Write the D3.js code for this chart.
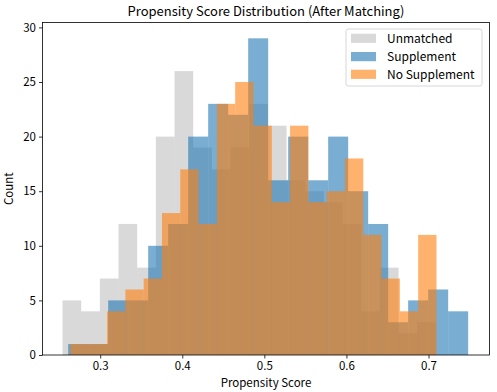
<!DOCTYPE html>
<html><head><meta charset="utf-8">
<script src="https://cdn.jsdelivr.net/npm/d3@7"></script>
<style>body{margin:0;background:#fff} svg{display:block}</style>
</head><body>
<svg id="c" width="497" height="392"></svg>
<script>
// ---- data ----
const seriesNames = ["Unmatched", "Supplement", "No Supplement"];
const unmatchedRange = [0.2541, 0.7090];
const unmatchedCounts = [5,4,7,12,8,20,26,19,17,19,23,21,16,15,14,12,4,8,2,3];
const supplementRange = [0.2610, 0.7483];
const supplementCounts = [1,1,5,5,10,12,20,23,22,29,16,20,16,20,15,12,3,5,6,4];
const noSupplementRange = [0.2638, 0.7097];
const noSupplementCounts = [1,1,4,6,7,13,17,12,23,25,21,14,21,14,15,18,11,7,4,11];
const xTicks = [0.3, 0.4, 0.5, 0.6, 0.7];
const yTicks = [0, 5, 10, 15, 20, 25, 30];
const titleText = "Propensity Score Distribution (After Matching)";
const xLabel = "Propensity Score";
const yLabel = "Count";

// ---- layout ----
const L = 42.5, R = 489.5, T = 22.5, B = 355;
const FONT = "'Noto Sans CJK JP', 'Noto Sans', sans-serif";
const svg = d3.select("#c");

const x = d3.scaleLinear().domain([0.2297, 0.7743]).range([L, R]);
const y = d3.scaleLinear().domain([0, 30.45]).range([B, T]);

const series = [
  {name: seriesNames[0], range: unmatchedRange, counts: unmatchedCounts, color: "#808080", op: 0.3},
  {name: seriesNames[1], range: supplementRange, counts: supplementCounts, color: "#1f77b4", op: 0.6},
  {name: seriesNames[2], range: noSupplementRange, counts: noSupplementCounts, color: "#ff7f0e", op: 0.6}
];

const plot = svg.append("g");
series.forEach(s => {
  const n = s.counts.length;
  const w = (s.range[1] - s.range[0]) / n;
  const bins = s.counts.map((c, i) => ({x0: s.range[0] + i * w, x1: s.range[0] + (i + 1) * w, c}));
  plot.append("g").selectAll("rect").data(bins.filter(b => b.c > 0)).join("rect")
    .attr("x", d => x(d.x0))
    .attr("width", d => x(d.x1) - x(d.x0))
    .attr("y", d => y(d.c))
    .attr("height", d => y(0) - y(d.c))
    .attr("fill", s.color)
    .attr("fill-opacity", s.op);
});

// axes
const ax = svg.append("g").attr("transform", `translate(0,${B})`)
  .call(d3.axisBottom(x).tickValues(xTicks).tickFormat(d3.format(".1f")).tickSize(3.5).tickPadding(3));
const ay = svg.append("g").attr("transform", `translate(${L},0)`)
  .call(d3.axisLeft(y).tickValues(yTicks).tickFormat(d3.format("d")).tickSize(3.5).tickPadding(3));
[ax, ay].forEach(a => {
  a.select(".domain").remove();
  a.selectAll("line").attr("stroke", "#000").attr("stroke-width", 0.8);
  a.selectAll("text").attr("font-family", FONT).attr("font-size", 11.5).attr("fill", "#000");
});

// spines
svg.append("rect").attr("x", L).attr("y", T).attr("width", R - L).attr("height", B - T)
  .attr("fill", "none").attr("stroke", "#000").attr("stroke-width", 0.8);

// title & labels
svg.append("text").attr("x", (L + R) / 2).attr("y", 16).attr("text-anchor", "middle")
  .attr("font-family", FONT).attr("font-size", 13).text(titleText);
svg.append("text").attr("x", (L + R) / 2).attr("y", 387).attr("text-anchor", "middle")
  .attr("font-family", FONT).attr("font-size", 11.5).text(xLabel);
svg.append("text").attr("transform", `translate(13,${(T + B) / 2}) rotate(-90)`).attr("text-anchor", "middle")
  .attr("font-family", FONT).attr("font-size", 11.5).text(yLabel);

// legend
const lg = svg.append("g");
lg.append("rect").attr("x", 346).attr("y", 29).attr("width", 136).attr("height", 57).attr("rx", 2.5)
  .attr("fill", "#fff").attr("fill-opacity", 0.8).attr("stroke", "#ccc").attr("stroke-width", 0.8);
const rowsY = [38.3, 56.6, 74.3];
series.forEach((s, i) => {
  lg.append("rect").attr("x", 351).attr("y", rowsY[i] - 4.6).attr("width", 25).attr("height", 9.2)
    .attr("fill", s.color).attr("fill-opacity", s.op);
  lg.append("text").attr("x", 387).attr("y", rowsY[i]).attr("dy", "0.35em")
    .attr("font-family", FONT).attr("font-size", 12).text(s.name);
});
</script>
</body></html>
